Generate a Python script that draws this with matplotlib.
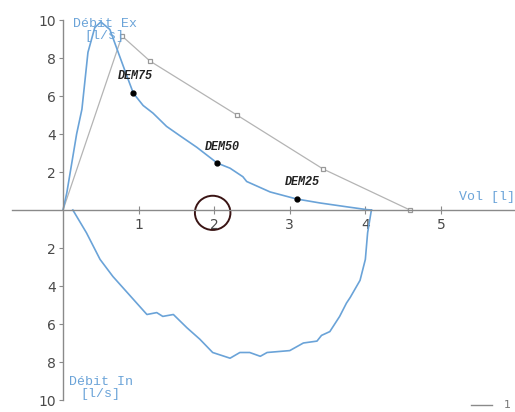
import matplotlib
matplotlib.use("Agg")
from matplotlib import pyplot as plt
from matplotlib.patches import Ellipse
from matplotlib.ticker import FuncFormatter

# measured expiration (vol [l], flow [l/s])
exp_vol = [0.0, 0.05, 0.18, 0.25, 0.33, 0.42, 0.50, 0.62, 0.73, 0.85, 0.93, 1.06, 1.19,
           1.37, 1.55, 1.77, 2.04, 2.21, 2.38, 2.43, 2.74, 3.09, 3.40, 3.75, 4.02, 4.08]
exp_flow = [0.0, 0.9, 4.0, 5.3, 8.3, 9.6, 9.9, 9.5, 8.3, 7.0, 6.15, 5.5, 5.1,
            4.4, 3.9, 3.3, 2.47, 2.2, 1.75, 1.5, 0.95, 0.58, 0.37, 0.17, 0.02, 0.0]

# measured inspiration (flow plotted downwards)
insp_vol = [4.08, 4.03, 4.00, 3.93, 3.80, 3.75, 3.66, 3.53, 3.42, 3.36, 3.18, 3.00, 2.70,
            2.61, 2.47, 2.34, 2.21, 1.98, 1.81, 1.64, 1.46, 1.32, 1.24, 1.11, 0.93, 0.66,
            0.49, 0.31, 0.13]
insp_flow = [0.0, -1.2, -2.6, -3.7, -4.6, -4.9, -5.6, -6.4, -6.6, -6.9, -7.0, -7.4, -7.5,
             -7.7, -7.5, -7.5, -7.8, -7.5, -6.8, -6.2, -5.5, -5.6, -5.4, -5.5, -4.7, -3.5,
             -2.6, -1.2, 0.0]

# predicted curve
pred_vol = [0.0, 0.78, 1.15, 2.30, 3.44, 4.59]
pred_flow = [0.0, 9.16, 7.84, 5.0, 2.16, 0.0]

dem_names = ["DEM75", "DEM50", "DEM25"]
dem_vol = [0.93, 2.04, 3.09]
dem_flow = [6.15, 2.47, 0.58]

blue = "#6aa3d8"
grey = "#b4b4b4"

fig = plt.figure(figsize=(5.15, 4.12), dpi=100)
ax = fig.add_axes([12 / 515, 12 / 412, 503 / 515, 380 / 412])
ax.set_xlim(-0.675, 5.98)
ax.set_ylim(-10, 10)

ax.plot(pred_vol, pred_flow, color=grey, lw=0.9)
ax.plot(pred_vol[1:], pred_flow[1:], ls="none", marker="s", ms=3.5,
        mfc="white", mec="#999999", mew=0.9)
ax.plot(exp_vol, exp_flow, color=blue, lw=1.2)
ax.plot(insp_vol, insp_flow, color=blue, lw=1.2)
ax.plot(dem_vol, dem_flow, ls="none", marker="o", ms=3.5, color="black")

dem_offsets = [(-0.2, 0.6), (-0.17, 0.55), (-0.15, 0.6)]
for name, v, f, (dx, dy) in zip(dem_names, dem_vol, dem_flow, dem_offsets):
    ax.text(v + dx, f + dy, name, family="Liberation Mono", style="italic",
            weight="bold", fontsize=8.5, color="#222222", ha="left", va="bottom")

mono = dict(family="Liberation Mono", color=blue, fontsize=9.5)
ax.text(0.55, 10.1, "Débit Ex\n[l/s]", ha="center", va="top", linespacing=0.95, **mono)
ax.text(0.5, -10.0, "Débit In\n[l/s]", ha="center", va="bottom", linespacing=0.95, **mono)
ax.text(5.98, 0.35, "Vol [l]", ha="right", va="bottom", **mono)

# hand drawn circle around the "2"
ax.add_patch(Ellipse((1.98, -0.15), 0.47, 1.8, fill=False, ec="#3a1414", lw=1.4))

for s in ["top", "right"]:
    ax.spines[s].set_visible(False)
ax.spines["left"].set_position(("data", 0))
ax.spines["bottom"].set_position(("data", 0))
ax.spines["left"].set_bounds(-10, 10)
for s in ["left", "bottom"]:
    ax.spines[s].set_color("#8a8a8a")
    ax.spines[s].set_linewidth(1.0)

ax.set_xticks([1, 2, 3, 4, 5])
ax.set_yticks([-10, -8, -6, -4, -2, 2, 4, 6, 8, 10])
ax.yaxis.set_major_formatter(FuncFormatter(lambda v, p: "%d" % abs(v)))
ax.tick_params(axis="x", direction="inout", length=6, color="#8a8a8a",
               labelsize=10, labelcolor="#4a4a4a", pad=3)
ax.tick_params(axis="y", direction="out", length=3, color="#8a8a8a",
               labelsize=10, labelcolor="#4a4a4a", pad=2)

# cut-off legend fragment bottom right
fig.text(0.985, 0.005, "1", fontsize=8, color="#777777", ha="center", va="bottom")
fig.lines.append(plt.Line2D([0.915, 0.955], [0.017, 0.017], transform=fig.transFigure,
                            color="#8a8a8a", lw=1))

fig.savefig("out.png", dpi=100)
